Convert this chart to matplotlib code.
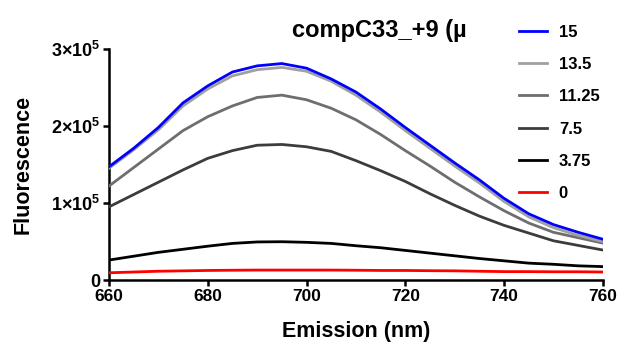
#Imports y config
import numpy as np
import matplotlib
matplotlib.use("Agg")
import matplotlib.pyplot as plt
from matplotlib.ticker import FixedLocator, FixedFormatter

plt.rcParams["font.family"] = ["Liberation Sans", "DejaVu Sans"]
plt.rcParams["font.weight"] = "bold"
plt.rcParams["mathtext.fontset"] = "custom"
plt.rcParams["mathtext.bf"] = "Liberation Sans:bold"
plt.rcParams["mathtext.rm"] = "Liberation Sans:bold"

# Datos (emision en nm, fluorescencia en miles)
emission = [660, 665, 670, 675, 680, 685, 690, 695, 700, 705, 710,
            715, 720, 725, 730, 735, 740, 745, 750, 755, 760]

f_15 = [147, 171, 198, 230, 252, 270, 278, 281, 275, 261, 244,
        222, 198, 175, 152, 130, 106, 86, 72, 62, 53]
f_13_5 = [145, 169, 195, 226, 248, 265, 273, 276, 271, 258, 240,
          218, 194, 171, 148, 126, 102, 82, 68, 58, 50]
f_11_25 = [122, 146, 170, 194, 212, 226, 237, 240, 234, 223, 208,
           189, 168, 148, 127, 108, 90, 74, 62, 55, 48]
f_7_5 = [95, 111, 127, 143, 158, 168, 175, 176, 173, 167, 155,
         142, 128, 112, 97, 83, 71, 61, 51, 45, 39]
f_3_75 = [26, 31, 36, 40, 44, 47.6, 49.5, 49.8, 49, 47.6, 44.6,
          42, 38.5, 35, 31.5, 28, 25, 22, 20.5, 18.5, 17.5]
f_0 = [9.5, 10.5, 11.5, 12, 12.5, 12.8, 13, 13, 13, 13, 12.8,
       12.5, 12.5, 12.2, 12, 11.5, 11, 11, 10.8, 10.8, 10.5]

labels = ["15", "13.5", "11.25", "7.5", "3.75", "0"]
colors = ["#0000ff", "#a0a0a0", "#6e6e6e", "#3c3c3c", "#000000", "#ff0000"]
series = [f_15, f_13_5, f_11_25, f_7_5, f_3_75, f_0]

x_ticks = [660, 680, 700, 720, 740, 760]
y_ticks = [0, 1e5, 2e5, 3e5]
y_ticklabels = ["0", r"$\mathbf{1{\times}10^{5}}$", r"$\mathbf{2{\times}10^{5}}$", r"$\mathbf{3{\times}10^{5}}$"]

fig = plt.figure(figsize=(6.19, 3.42), dpi=100)
ax = fig.add_axes([0.176, 0.181, 0.798, 0.676])

x = np.array(emission)
lines = []
for i in range(len(series)):
    y = np.array(series[i]) * 1000
    ln, = ax.plot(x, y, color=colors[i], lw=2.0, label=labels[i], zorder=10 - i)
    lines.append(ln)

ax.set_xlim(660, 760)
ax.set_ylim(0, 3e5)
ax.xaxis.set_major_locator(FixedLocator(x_ticks))
ax.yaxis.set_major_locator(FixedLocator(y_ticks))
ax.yaxis.set_major_formatter(FixedFormatter(y_ticklabels))

for s in ["top", "right"]:
    ax.spines[s].set_visible(False)
for s in ["left", "bottom"]:
    ax.spines[s].set_linewidth(1.8)
ax.tick_params(width=1.8, length=4.5, pad=2)
ax.tick_params(axis="x", labelsize=12.5)
ax.tick_params(axis="y", labelsize=13)
for t in ax.get_xticklabels() + ax.get_yticklabels():
    t.set_fontweight("bold")

ax.set_xlabel("Emission (nm)", fontsize=15.5, fontweight="bold", labelpad=12)
ax.set_ylabel("Fluorescence", fontsize=15.5, fontweight="bold", labelpad=12)

fig.text(379 / 619, 1 - 30 / 342, "compC33_+9 (\u00b5", fontsize=17,
         fontweight="bold", ha="center", va="center")

ax.legend(handles=lines, loc="upper left", bbox_to_anchor=(519 / 619, 1 - 25 / 342),
          bbox_transform=fig.transFigure, frameon=False, fontsize=12,
          handlelength=1.67, handletextpad=0.72, labelspacing=1.03, borderpad=0,
          borderaxespad=0)

fig.savefig("out.png", dpi=100)
